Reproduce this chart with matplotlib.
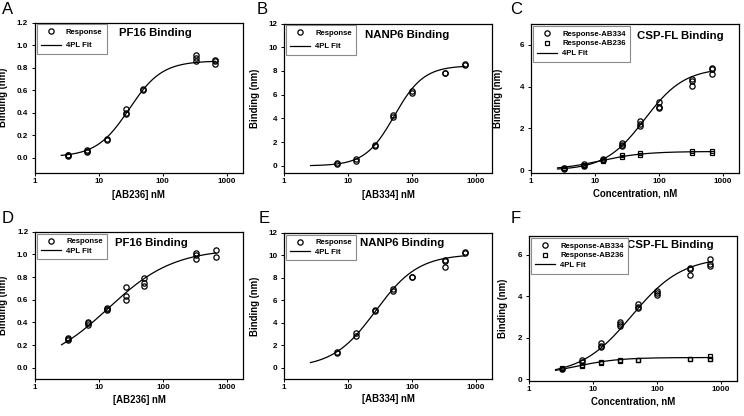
import numpy as np
import matplotlib
matplotlib.use("Agg")
import matplotlib.pyplot as plt
from matplotlib.lines import Line2D
from matplotlib.ticker import NullLocator

plt.rcParams['font.family'] = ['Liberation Sans', 'DejaVu Sans']
plt.rcParams['font.weight'] = 'bold'
plt.rcParams['axes.labelweight'] = 'bold'

# ---------------- data ----------------
# Panel A: PF16 binding, AB236
A_x = [3.33, 3.33, 3.33, 6.67, 6.67, 6.67, 13.3, 13.3, 26.7, 26.7, 26.7, 50, 50, 333, 333, 333, 667, 667, 667]
A_y = [0.03, 0.02, 0.03, 0.07, 0.05, 0.06, 0.17, 0.16, 0.43, 0.40, 0.39, 0.61, 0.60, 0.91, 0.89, 0.86, 0.87, 0.83, 0.86]
A_fit = [0.01, 0.86, 30.0, 1.7]          # bottom, top, EC50, Hill

# Panel B: NANP6 binding, AB334
B_x = [6.67, 6.67, 13.3, 13.3, 26.7, 26.7, 50, 50, 100, 100, 333, 333, 667, 667]
B_y = [0.15, 0.25, 0.45, 0.55, 1.65, 1.75, 4.15, 4.25, 6.3, 6.15, 7.85, 7.8, 8.5, 8.6]
B_fit = [0.0, 8.45, 53.0, 1.9]

# Panel C: CSP-FL binding
C1_x = [3.33, 3.33, 6.67, 6.67, 13.3, 13.3, 26.7, 26.7, 26.7, 50, 50, 50, 100, 100, 100, 333, 333, 333, 667, 667, 667]
C1_y = [0.08, 0.12, 0.22, 0.28, 0.48, 0.55, 1.3, 1.2, 1.15, 2.35, 2.2, 2.1, 3.25, 3.05, 3.0, 4.35, 4.25, 4.05, 4.9, 4.85, 4.6]
C2_x = [3.33, 3.33, 6.67, 6.67, 13.3, 13.3, 26.7, 26.7, 50, 50, 333, 333, 667, 667]
C2_y = [0.12, 0.10, 0.25, 0.22, 0.50, 0.45, 0.72, 0.64, 0.82, 0.74, 0.94, 0.85, 0.91, 0.85]
C1_fit = [0.0, 4.9, 60.0, 1.4]
C2_fit = [0.0, 0.9, 12.0, 1.25]

# Panel D: PF16 binding, AB236 (second set)
D_x = [3.33, 3.33, 3.33, 6.67, 6.67, 6.67, 13.3, 13.3, 13.3, 26.7, 26.7, 26.7, 50, 50, 50, 333, 333, 333, 667, 667]
D_y = [0.25, 0.24, 0.26, 0.40, 0.38, 0.39, 0.53, 0.51, 0.52, 0.71, 0.63, 0.60, 0.79, 0.75, 0.72, 1.01, 0.99, 0.96, 1.04, 0.98]
D_fit = [0.0, 1.05, 14.0, 0.85]

# Panel E: NANP6 binding, AB334 (second set)
E_x = [6.67, 6.67, 13.3, 13.3, 26.7, 26.7, 50, 50, 100, 100, 333, 333, 333, 667, 667]
E_y = [1.4, 1.35, 3.1, 2.8, 5.1, 5.0, 7.0, 6.8, 8.1, 8.05, 9.6, 9.5, 8.95, 10.2, 10.25]
E_fit = [0.0, 10.1, 27.0, 1.3]

# Panel F: CSP-FL binding (second set)
F1_x = [3.33, 6.67, 6.67, 13.3, 13.3, 13.3, 26.7, 26.7, 26.7, 50, 50, 50, 100, 100, 100, 333, 333, 333, 667, 667, 667]
F1_y = [0.5, 0.95, 0.85, 1.75, 1.6, 1.55, 2.75, 2.65, 2.55, 3.65, 3.5, 3.45, 4.25, 4.15, 4.05, 5.35, 5.3, 5.0, 5.8, 5.55, 5.45]
F2_x = [3.33, 3.33, 6.67, 6.67, 13.3, 13.3, 26.7, 26.7, 50, 50, 333, 333, 667, 667, 667]
F2_y = [0.5, 0.55, 0.7, 0.65, 0.85, 0.8, 0.9, 0.95, 0.95, 0.93, 0.99, 1.0, 1.12, 1.0, 0.98]
F1_fit = [0.2, 5.9, 40.0, 1.1]
F2_fit = [0.2, 1.05, 5.5, 1.3]

fit_range = [2.6, 667]
x_ticks = [1, 10, 100, 1000]

# ---------------- helpers ----------------
W, H = 744, 416
fig = plt.figure(figsize=(W / 100, H / 100), dpi=100)


def fourpl(x, p):
    b, t, c, h = p
    return b + (t - b) / (1 + (c / x) ** h)


def make_ax(box, ylim, yticks, yfmt, xlab, xlab_top, ylab_right, title, title_pos, letter, letter_pos):
    l, r, t, b = box
    ax = fig.add_axes([l / W, 1 - b / H, (r - l) / W, (b - t) / H])
    ax.set_xscale('log')
    ax.set_xlim(1, 10 ** ((r - l) / 64.0))
    ax.set_ylim(*ylim)
    ax.set_xticks(x_ticks)
    ax.set_xticklabels([str(v) for v in x_ticks])
    ax.xaxis.set_minor_locator(NullLocator())
    ax.set_yticks(yticks)
    ax.set_yticklabels([yfmt.format(v) for v in yticks])
    ax.tick_params(direction='out', length=2.5, width=0.7, labelsize=5.8)
    ax.tick_params(axis='x', pad=1.2)
    ax.tick_params(axis='y', pad=2.3)
    for s in ax.spines.values():
        s.set_linewidth(0.9)
    ax.set_xlabel(xlab, fontsize=6.9)
    ax.xaxis.set_label_coords(0.5, (b - xlab_top) / (b - t))
    ax.set_ylabel('Binding (nm)', fontsize=6.9)
    ax.yaxis.set_label_coords((ylab_right - l) / (r - l), 0.5)
    ax.text(title_pos[0], title_pos[1], title, transform=ax.transAxes, ha='center', va='center',
            fontsize=8.2, fontweight='bold')
    fig.text(letter_pos[0] / W, 1 - letter_pos[1] / H, letter, fontsize=12, fontweight='normal',
             ha='left', va='top')
    return ax


xf = np.logspace(np.log10(fit_range[0]), np.log10(fit_range[1]), 300)
circ = dict(marker='o', ls='none', mfc='none', mec='black', ms=3.8, mew=0.9)
sq = dict(marker='s', ls='none', mfc='none', mec='black', ms=3.3, mew=0.9)
line_kw = dict(color='black', lw=0.9)


def add_legend(ax, handles, labels, spacing):
    leg = ax.legend(handles, labels, loc='upper left', fontsize=5.6, frameon=True, fancybox=False,
                    edgecolor='#8a8a8a', framealpha=1, borderaxespad=0.25, borderpad=0.55,
                    handlelength=2.6, handletextpad=0.6, labelspacing=spacing, numpoints=1)
    leg.get_frame().set_linewidth(0.8)
    return leg


h_resp = Line2D([], [], **circ)
h_sq = Line2D([], [], **sq)
h_fit = Line2D([], [], **line_kw)

y_ab = [0.0, 0.2, 0.4, 0.6, 0.8, 1.0, 1.2]
y_be = [0, 2, 4, 6, 8, 10, 12]
y_cf = [0, 2, 4, 6]

# A
ax = make_ax((34.7, 243, 22.5, 173), (-0.133, 1.2), y_ab, '{:.1f}', '[AB236] nM', 190,
             8.5, 'PF16 Binding', (0.58, 0.93), 'A', (2, 2))
ax.plot(xf, fourpl(xf, A_fit), **line_kw)
ax.plot(A_x, A_y, **circ)
add_legend(ax, [h_resp, h_fit], ['Response', '4PL Fit'], 0.75)

# B
ax = make_ax((284, 492, 23.5, 173), (-0.6, 12), y_be, '{:d}', '[AB334] nM', 190,
             260, 'NANP6 Binding', (0.59, 0.92), 'B', (257, 2))
ax.plot(xf, fourpl(xf, B_fit), **line_kw)
ax.plot(B_x, B_y, **circ)
add_legend(ax, [h_resp, h_fit], ['Response', '4PL Fit'], 0.75)

# C
ax = make_ax((531, 739, 24, 173), (-0.13, 7.0), y_cf, '{:d}', 'Concentration, nM', 188,
             503, 'CSP-FL Binding', (0.72, 0.92), 'C', (510, 2))
ax.plot(xf, fourpl(xf, C1_fit), **line_kw)
ax.plot(xf, fourpl(xf, C2_fit), **line_kw)
ax.plot(C1_x, C1_y, **circ)
ax.plot(C2_x, C2_y, **sq)
add_legend(ax, [h_resp, h_sq, h_fit], ['Response-AB334', 'Response-AB236', '4PL Fit'], 0.3)

# D
ax = make_ax((35, 243, 231.7, 379), (-0.1, 1.2), y_ab, '{:.1f}', '[AB236] nM', 395,
             8.5, 'PF16 Binding', (0.56, 0.92), 'D', (2, 211))
ax.plot(xf, fourpl(xf, D_fit), **line_kw)
ax.plot(D_x, D_y, **circ)
add_legend(ax, [h_resp, h_fit], ['Response', '4PL Fit'], 0.3)

# E
ax = make_ax((284, 492, 232.7, 379), (-1, 12), y_be, '{:d}', '[AB334] nM', 394,
             260, 'NANP6 Binding', (0.57, 0.93), 'E', (259, 211))
ax.plot(xf, fourpl(xf, E_fit), **line_kw)
ax.plot(E_x, E_y, **circ)
add_legend(ax, [h_resp, h_fit], ['Response', '4PL Fit'], 0.3)

# F
ax = make_ax((529, 737, 236, 381), (-0.08, 6.9), y_cf, '{:d}', 'Concentration, nM', 396,
             508, 'CSP-FL Binding', (0.68, 0.94), 'F', (511, 211))
ax.plot(xf, fourpl(xf, F1_fit), **line_kw)
ax.plot(xf, fourpl(xf, F2_fit), **line_kw)
ax.plot(F1_x, F1_y, **circ)
ax.plot(F2_x, F2_y, **sq)
add_legend(ax, [h_resp, h_sq, h_fit], ['Response-AB334', 'Response-AB236', '4PL Fit'], 0.3)

fig.savefig('out.png', dpi=100)
